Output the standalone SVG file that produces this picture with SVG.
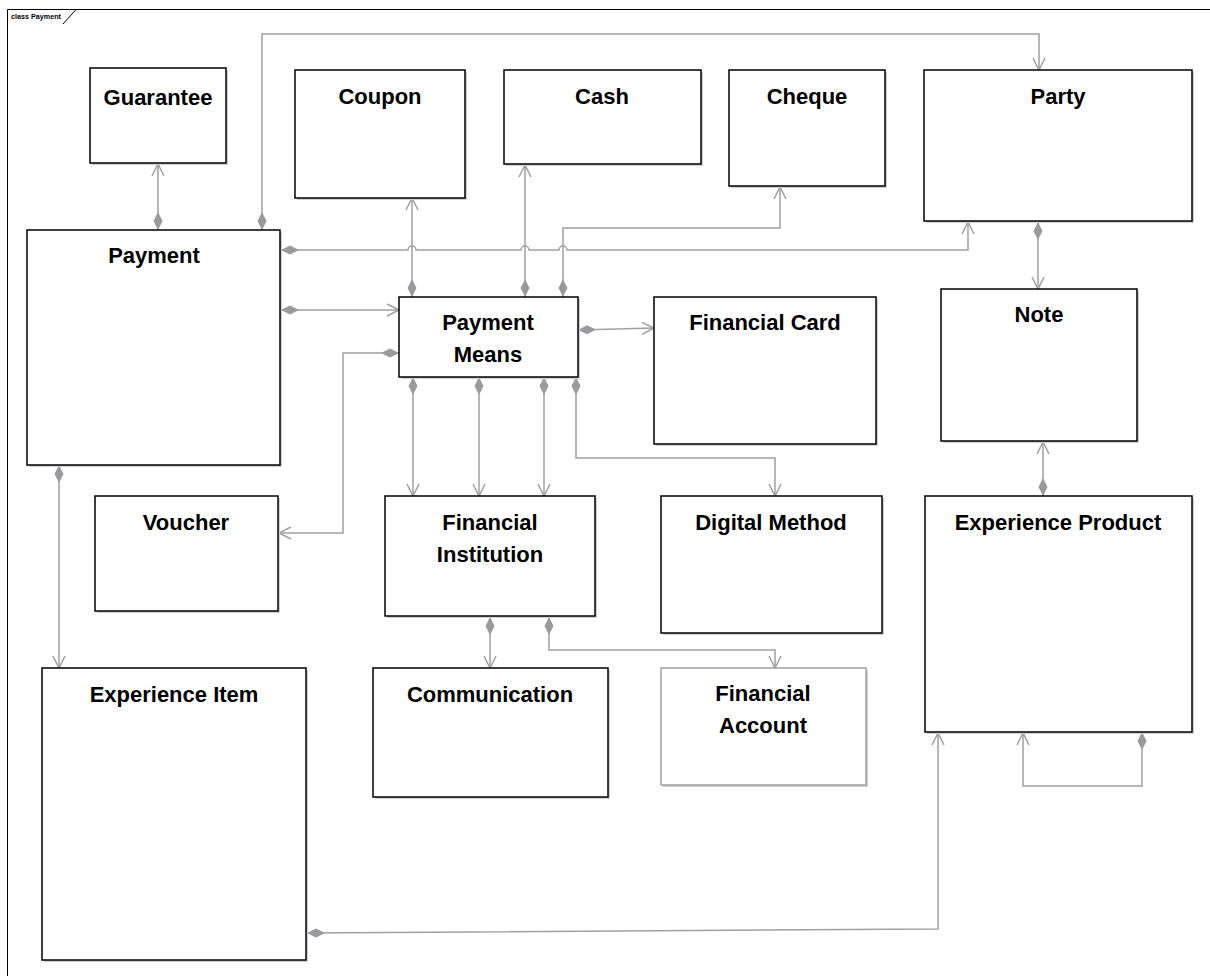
<svg xmlns="http://www.w3.org/2000/svg" width="1210" height="976" viewBox="0 0 1210 976">
<style>
.box{fill:#fff;stroke:#000;stroke-width:1.5}
.gbox{fill:#fff;stroke:#a0a0a4;stroke-width:1.5}
.sh{fill:#d0d0d0}
.t{font-family:"Liberation Sans",Arial,sans-serif;font-weight:bold;font-size:22px;fill:#000;text-anchor:middle}
.c{fill:none;stroke:#a0a0a4;stroke-width:1.5;marker-start:url(#dia);marker-end:url(#arr)}
.frame{fill:none;stroke:#000;stroke-width:1}
</style>
<defs>
<marker id="dia" markerUnits="userSpaceOnUse" viewBox="-1 -6 21 12" refX="0" refY="0" markerWidth="21" markerHeight="12" orient="auto">
<path d="M0,0 L9,-4.5 L18,0 L9,4.5 Z" fill="#9a9a9e" stroke="none"/>
</marker>
<marker id="arr" markerUnits="userSpaceOnUse" viewBox="-14 -8 16 16" refX="0" refY="0" markerWidth="16" markerHeight="16" orient="auto">
<path d="M-12,-6 L0,0 L-12,6" fill="none" stroke="#a0a0a4" stroke-width="1.5"/>
</marker>
</defs>
<rect width="1210" height="976" fill="#fff"/>
<g id="frame">
<path class="frame" d="M7.5,976 V9.5 H1210"/>
<path class="frame" d="M76,9.5 L63,24"/>
<text x="11" y="19" font-family="Liberation Sans,Arial,sans-serif" font-weight="bold" font-size="7.2" fill="#000">class Payment</text>
</g>
<g id="connectors">
<path class="c" d="M158,230 V164"/>
<path class="c" d="M262,230 V34 H1039 V70"/>
<path class="c" d="M281,250 H408 a4,4 0 0 1 8,0 H521 a4,4 0 0 1 8,0 H559 a4,4 0 0 1 8,0 H968 V222"/>
<path class="c" d="M412,297 V198"/>
<path class="c" d="M525,297 V165"/>
<path class="c" d="M563,297 V228 H780 V187"/>
<path class="c" d="M281,310 H399"/>
<path class="c" d="M399,353 H343 V533 H279"/>
<path class="c" d="M578,330 L654,328"/>
<path class="c" d="M413,377 V496"/>
<path class="c" d="M479,377 V496"/>
<path class="c" d="M544,377 V496"/>
<path class="c" d="M576,377 V458 H775 V496"/>
<path class="c" d="M1038,222 V289"/>
<path class="c" d="M1043,496 V442"/>
<path class="c" d="M1142,732 V786 H1023 V733"/>
<path class="c" d="M59,465 V668"/>
<path class="c" d="M490,617 V668"/>
<path class="c" d="M549,617 V650 H775 V668"/>
<path class="c" d="M307,933 L938,929 V733"/>
</g>
<g id="guarantee"><rect class="sh" x="92" y="70" width="136" height="95"/><rect class="box" x="90" y="68" width="136" height="95"/><text class="t" x="158" y="105">Guarantee</text></g>
<g id="coupon"><rect class="sh" x="297" y="72" width="170" height="128"/><rect class="box" x="295" y="70" width="170" height="128"/><text class="t" x="380" y="104">Coupon</text></g>
<g id="cash"><rect class="sh" x="506" y="72" width="197" height="94"/><rect class="box" x="504" y="70" width="197" height="94"/><text class="t" x="602" y="104">Cash</text></g>
<g id="cheque"><rect class="sh" x="731" y="72" width="156" height="116"/><rect class="box" x="729" y="70" width="156" height="116"/><text class="t" x="807" y="104">Cheque</text></g>
<g id="party"><rect class="sh" x="926" y="72" width="268" height="151"/><rect class="box" x="924" y="70" width="268" height="151"/><text class="t" x="1058" y="104">Party</text></g>
<g id="payment"><rect class="sh" x="29" y="232" width="253" height="235"/><rect class="box" x="27" y="230" width="253" height="235"/><text class="t" x="154" y="263">Payment</text></g>
<g id="payment-means"><rect class="sh" x="401" y="299" width="179" height="80"/><rect class="box" x="399" y="297" width="179" height="80"/><text class="t" x="488" y="330">Payment</text><text class="t" x="488" y="362">Means</text></g>
<g id="financial-card"><rect class="sh" x="656" y="299" width="222" height="147"/><rect class="box" x="654" y="297" width="222" height="147"/><text class="t" x="765" y="330">Financial Card</text></g>
<g id="note"><rect class="sh" x="943" y="291" width="196" height="152"/><rect class="box" x="941" y="289" width="196" height="152"/><text class="t" x="1039" y="322">Note</text></g>
<g id="voucher"><rect class="sh" x="97" y="498" width="183" height="115"/><rect class="box" x="95" y="496" width="183" height="115"/><text class="t" x="186" y="530">Voucher</text></g>
<g id="financial-institution"><rect class="sh" x="387" y="498" width="210" height="120"/><rect class="box" x="385" y="496" width="210" height="120"/><text class="t" x="490" y="530">Financial</text><text class="t" x="490" y="562">Institution</text></g>
<g id="digital-method"><rect class="sh" x="663" y="498" width="221" height="137"/><rect class="box" x="661" y="496" width="221" height="137"/><text class="t" x="771" y="530">Digital Method</text></g>
<g id="experience-product"><rect class="sh" x="927" y="498" width="267" height="236"/><rect class="box" x="925" y="496" width="267" height="236"/><text class="t" x="1058" y="530">Experience Product</text></g>
<g id="experience-item"><rect class="sh" x="44" y="670" width="264" height="292"/><rect class="box" x="42" y="668" width="264" height="292"/><text class="t" x="174" y="702">Experience Item</text></g>
<g id="communication"><rect class="sh" x="375" y="670" width="235" height="129"/><rect class="box" x="373" y="668" width="235" height="129"/><text class="t" x="490" y="702">Communication</text></g>
<g id="financial-account"><rect class="sh" x="663" y="670" width="205" height="117"/><rect class="gbox" x="661" y="668" width="205" height="117"/><text class="t" x="763" y="701">Financial</text><text class="t" x="763" y="733">Account</text></g>
</svg>
